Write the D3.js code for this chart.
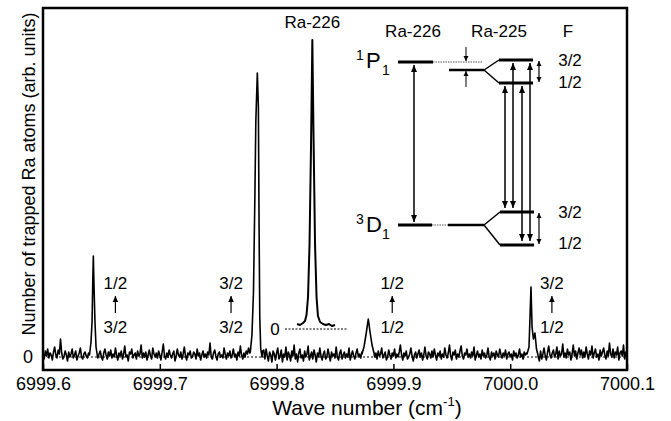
<!DOCTYPE html>
<html><head><meta charset="utf-8">
<script src="https://cdnjs.cloudflare.com/ajax/libs/d3/7.8.5/d3.min.js"></script>
<style>body{margin:0;background:#fff}svg{display:block;font-family:"Liberation Sans",Arial,sans-serif}</style>
</head><body><svg id="c" width="671" height="421"></svg>
<script>
// ---- data ----
const xStart = 6999.6, xStep = 0.001;
// baseline noise in hundredths of arb. units, one value per 0.001 cm-1 step
const noiseHundredths = [
3,-2,6,1,8,-1,4,2,-3,5,10,2,-1,7,3,18,4,-2,1,6,
2,-4,5,0,3,8,-1,2,6,-3,1,4,9,0,-2,3,5,1,-1,4,
2,3,1,2,3,1,2,-1,3,6,0,-3,4,8,2,-2,5,1,7,-1,
3,0,9,2,-3,4,1,6,-2,3,11,0,2,-4,5,3,8,-1,2,4,
-2,6,1,3,12,-1,4,0,5,-3,2,7,1,-2,9,3,0,4,-1,6,
2,-3,5,13,1,-2,4,0,7,2,-1,3,6,-4,1,8,2,0,5,-2,
3,10,1,-3,4,2,6,-1,0,5,3,-2,8,1,4,-3,2,6,0,3,
-1,5,2,14,0,-2,4,7,1,-3,3,5,0,2,-1,9,3,-2,4,1,
6,-1,2,8,0,3,-3,5,1,11,2,-2,4,0,6,3,9,4,8,3,
2,3,4,3,5,2,4,3,6,7,-2,8,1,-4,5,2,-5,6,3,-3,
4,9,-2,1,7,-5,3,0,10,-3,5,2,-4,6,1,12,-2,3,-5,4,
8,-1,2,-4,6,0,3,11,-3,1,5,-2,7,2,-5,4,0,9,1,-3,
3,6,-2,0,8,2,-4,5,1,3,-1,10,0,-3,4,7,-2,2,5,-1,
3,0,9,-3,2,6,1,-2,4,8,0,3,-1,5,6,10,12,14,11,8,
5,3,2,1,0,4,-2,6,1,3,9,-1,2,5,-3,0,7,2,-2,4,
1,8,-1,3,0,5,12,2,-3,4,1,6,-2,0,3,9,1,-4,2,5,
-1,3,7,0,4,-3,2,10,1,-2,5,3,-1,6,0,8,2,-3,4,1,
6,-2,3,0,9,2,-1,4,12,1,-3,5,2,7,-2,3,0,6,11,1,
-2,4,2,8,0,3,-1,5,1,10,-3,2,6,0,3,-2,7,1,4,-1,
2,9,0,-3,5,1,4,-2,6,2,0,8,3,-1,4,1,7,-2,3,5,
0,3,-3,6,1,4,-1,2,8,0,3,-2,5,2,4,3,5,8,6,2,
3,4,2,1,0,-4,6,-2,3,9,1,-3,5,11,2,-1,4,7,0,3,
10,-2,6,1,3,13,0,4,-1,8,2,5,-3,3,12,1,6,-2,4,9,
2,7,-1,5,0,10,3,-2,6,2,11,-1,4,8,0,3,-3,7,1,5,
9,2,-2,6,1,14,3,0,8,-1,5,2,10,-3,4,6,1,12,-2,5,
3];
// resonance peaks [wave number, signal]
const peak1 = [[6999.6398,0.02],[6999.6411,0.15],[6999.6420,0.35],[6999.6426,0.75],[6999.6431,1.01],[6999.6437,0.70],[6999.6445,0.35],[6999.6454,0.10],[6999.6467,0.00]];
const peak2 = [[6999.7775,0.05],[6999.7789,0.22],[6999.7802,0.65],[6999.7814,1.60],[6999.7822,2.35],[6999.7835,2.84],[6999.7844,2.50],[6999.7850,1.30],[6999.7856,0.40],[6999.7864,0.08],[6999.7876,0.00]];
const peak4 = [[6999.8731,0.03],[6999.8748,0.10],[6999.8765,0.22],[6999.8785,0.38],[6999.8800,0.25],[6999.8817,0.12],[6999.8834,0.04]];
const peak5 = [[7000.0144,0.03],[7000.0161,0.10],[7000.0171,0.45],[7000.0178,0.70],[7000.0187,0.30],[7000.0199,0.18],[7000.0212,0.24],[7000.0225,0.08],[7000.0238,0.02]];
// Ra-226 inset (relative to its own zero)
const ra226 = [[6999.8175,0.05],[6999.8200,0.04],[6999.8226,0.06],[6999.8243,0.08],[6999.8256,0.14],[6999.8269,0.32],[6999.8282,0.85],[6999.8295,1.85],[6999.8306,2.89],[6999.8316,1.95],[6999.8329,0.85],[6999.8342,0.32],[6999.8354,0.13],[6999.8372,0.07],[6999.8397,0.05],[6999.8423,0.04],[6999.8449,0.05],[6999.8474,0.03],[6999.8500,0.04]];
const insetZero = 0.28;
const insetBase = [6999.8072, 6999.8610];
const xTicks = [6999.6, 6999.7, 6999.8, 6999.9, 7000.0, 7000.1];
const yTicks = [0];
// transition labels [wave number, upper F, lower F]
const transLabels = [[6999.6620,"1/2","3/2"],[6999.7610,"3/2","3/2"],[6999.8990,"1/2","1/2"],[7000.0357,"3/2","1/2"]];

// ---- scales ----
const svg = d3.select("#c");
const L = 43, R = 627, T = 8, B = 370;
const x = d3.scaleLinear().domain([6999.6, 7000.1]).range([L, R]);
const y = d3.scaleLinear().domain([-0.13, 3.49]).range([B, T]);

// build trace
const peaks = [peak1, peak2, peak4, peak5];
let trace = noiseHundredths.map((v,i)=>[xStart + i*xStep, v/100]);
peaks.forEach(p=>{
  const a = p[0][0], b = p[p.length-1][0];
  trace = trace.filter(d=> d[0] < a || d[0] > b);
  trace = trace.concat(p);
});
trace.sort((m,n)=>m[0]-n[0]);

const line = d3.line().x(d=>x(d[0])).y(d=>y(d[1]));

// zero dotted line
svg.append("line").attr("x1",L).attr("x2",R).attr("y1",y(0)).attr("y2",y(0))
  .attr("stroke","#000").attr("stroke-width",1).attr("stroke-dasharray","2,2");

svg.append("path").datum(trace).attr("d",line).attr("fill","none")
  .attr("stroke","#000").attr("stroke-width",1.6).attr("stroke-linejoin","round");

// inset
svg.append("line").attr("x1",x(insetBase[0])).attr("x2",x(insetBase[1]))
  .attr("y1",y(insetZero)).attr("y2",y(insetZero))
  .attr("stroke","#000").attr("stroke-width",1).attr("stroke-dasharray","2,1.5");
svg.append("path").datum(ra226.map(d=>[d[0], d[1]+insetZero])).attr("d",line)
  .attr("fill","none").attr("stroke","#000").attr("stroke-width",2).attr("stroke-linejoin","round");
svg.append("text").attr("x",x(insetBase[0])-10).attr("y",y(insetZero)).attr("dy","0.36em")
  .attr("text-anchor","middle").attr("font-size",17).text("0");
svg.append("text").attr("x",x(6999.8306)).attr("y",22).attr("dy","0.36em")
  .attr("text-anchor","middle").attr("font-size",17).text("Ra-226");

// axes
const xAxis = d3.axisBottom(x).tickValues(xTicks).tickFormat(d3.format(".1f")).tickSize(-6).tickPadding(7);
const gx = svg.append("g").attr("transform",`translate(0,${B})`).call(xAxis);
gx.select(".domain").remove();
gx.selectAll("line").attr("stroke-width",1.5);
gx.selectAll("text").attr("font-size",18).attr("font-family","Liberation Sans, Arial, sans-serif").attr("fill","#000");
const yAxis = d3.axisLeft(y).tickValues(yTicks).tickFormat(d3.format("d")).tickSize(0).tickPadding(10);
const gy = svg.append("g").attr("transform",`translate(${L},0)`).call(yAxis);
gy.select(".domain").remove();
gy.selectAll("text").attr("font-size",18).attr("font-family","Liberation Sans, Arial, sans-serif").attr("fill","#000");

// frame
svg.append("rect").attr("x",L).attr("y",T).attr("width",R-L).attr("height",B-T)
  .attr("fill","none").attr("stroke","#000").attr("stroke-width",2.5);

// titles
svg.append("text").attr("transform","translate(35,174) rotate(-90)").attr("text-anchor","middle")
  .attr("font-size",18).text("Number of trapped Ra atoms (arb. units)");
const xt = svg.append("text").attr("x",367).attr("y",415).attr("text-anchor","middle").attr("font-size",21);
xt.append("tspan").text("Wave number (cm");
xt.append("tspan").attr("font-size",13).attr("dy",-9).text("-1");
xt.append("tspan").attr("dy",9).text(")");

// arrow helper
function arrow(x0, y0, y1, opts){
  const o = Object.assign({w:1.5, hl:7, hw:3, start:false, end:true}, opts||{});
  svg.append("line").attr("x1",x0).attr("x2",x0).attr("y1",y0).attr("y2",y1)
    .attr("stroke","#000").attr("stroke-width",o.w);
  const head = (tipY, dir) => { // dir: +1 pointing down, -1 pointing up
    svg.append("path").attr("d",`M${x0},${tipY} L${x0-o.hw},${tipY-dir*o.hl} L${x0+o.hw},${tipY-dir*o.hl} Z`).attr("fill","#000");
  };
  if (o.end) head(y1, y1>y0?1:-1);
  if (o.start) head(y0, y0>y1?1:-1);
}

// transition labels in spectrum
transLabels.forEach(t=>{
  const px = x(t[0]);
  svg.append("text").attr("x",px).attr("y",283).attr("dy","0.36em").attr("text-anchor","middle").attr("font-size",17).text(t[1]);
  svg.append("text").attr("x",px).attr("y",327).attr("dy","0.36em").attr("text-anchor","middle").attr("font-size",17).text(t[2]);
  arrow(px, 313, 296, {w:1.2, hl:6, hw:2.8});
});

// ---- level diagram ----
function hline(x1,x2,yy,w,dash,col){
  const l = svg.append("line").attr("x1",x1).attr("x2",x2).attr("y1",yy).attr("y2",yy)
    .attr("stroke",col||"#000").attr("stroke-width",w);
  if (dash) l.attr("stroke-dasharray",dash);
}
function seg(x1,y1,x2,y2,w){
  svg.append("line").attr("x1",x1).attr("x2",x2).attr("y1",y1).attr("y2",y2).attr("stroke","#000").attr("stroke-width",w);
}
const hdr = [["Ra-226",413],["Ra-225",499],["F",568]];
hdr.forEach(h=>svg.append("text").attr("x",h[1]).attr("y",31).attr("dy","0.36em").attr("text-anchor","middle").attr("font-size",17).text(h[0]));

// 1P1
hline(398,433,62,3);
hline(433,483,62,1,"1.5,1","#555");
hline(449,484,70,2.5);
seg(484,70,499,60,1.5); seg(484,70,499,83,1.5);
hline(499,533,60,3); hline(499,533,83,3);
// 3D1
hline(398,432,225,3);
hline(432,448,225,1,"1.5,1","#555");
hline(448,484,225,2.5);
seg(484,225,500,212,1.5); seg(484,225,500,245,1.5);
hline(500,534,212,3); hline(500,534,245,3);

// term labels
function term(sup, main, sub, yb){
  svg.append("text").attr("x",360).attr("y",yb-8).attr("text-anchor","middle").attr("font-size",14).text(sup);
  svg.append("text").attr("x",366).attr("y",yb).attr("font-size",22).text(main);
  svg.append("text").attr("x",386).attr("y",yb+7).attr("text-anchor","middle").attr("font-size",14).text(sub);
}
term("1","P","1",68);
term("3","D","1",232);

// F labels
[["3/2",60],["1/2",82],["3/2",212],["1/2",243]].forEach(f=>
  svg.append("text").attr("x",570).attr("y",f[1]).attr("dy","0.36em").attr("text-anchor","middle").attr("font-size",17).text(f[0]));

// transitions
arrow(414, 222, 65, {start:true});
arrow(505, 86, 208, {start:true});
arrow(513, 63, 208, {start:true});
arrow(522, 86, 241, {start:true});
arrow(530, 63, 241, {start:true});
// hyperfine splitting double arrows
arrow(539, 61, 82, {w:1.2, hl:5, hw:2.5, start:true});
arrow(539, 213, 244, {w:1.2, hl:5, hw:2.5, start:true});
// isotope shift arrows
arrow(466, 47, 61, {w:1, hl:5, hw:2.5});
arrow(466, 87, 71, {w:1, hl:5, hw:2.5});
</script></body></html>
